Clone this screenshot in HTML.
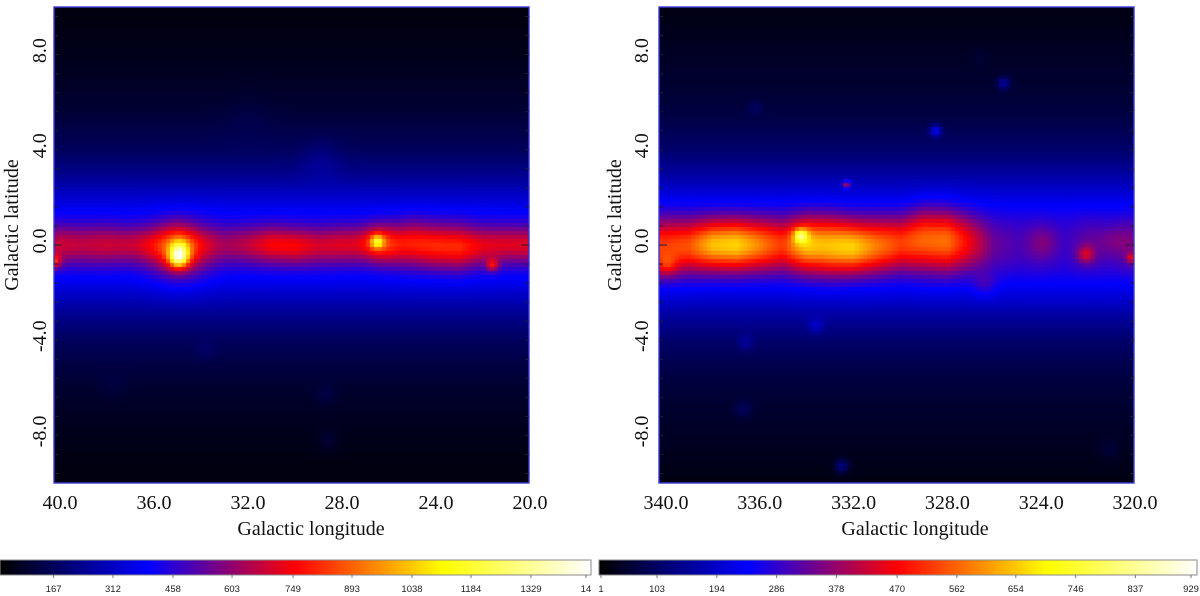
<!DOCTYPE html>
<html>
<head>
<meta charset="utf-8">
<title>Galactic plane maps</title>
<style>
html,body{margin:0;padding:0;background:#fff;}
#stage{position:relative;width:1200px;height:596px;overflow:hidden;background:#fff;}
canvas{position:absolute;display:block;}
svg{position:absolute;left:0;top:0;}
.serif{font-family:"Liberation Serif",serif;font-size:20px;fill:#111;}
.sans{font-family:"Liberation Sans",sans-serif;font-size:9.5px;fill:#222;}
</style>
</head>
<body>
<div id="stage">
  <canvas id="map-left" width="475" height="476" style="left:54px;top:7px"></canvas>
  <canvas id="map-right" width="475" height="476" style="left:659px;top:7px"></canvas>
  <canvas id="bar-left" width="591" height="15" style="left:0;top:560px"></canvas>
  <canvas id="bar-right" width="598" height="15" style="left:599px;top:560px"></canvas>
  <svg id="overlay" width="1200" height="596" xmlns="http://www.w3.org/2000/svg"></svg>
</div>
<script>
// ---------- data ----------
const latTicks = [8, 4, 0, -4, -8];
const latMinorTicks = [-9.6,-8.8,-8,-7.2,-6.4,-5.6,-4.8,-4,-3.2,-2.4,-1.6,-0.8,0,0.8,1.6,2.4,3.2,4,4.8,5.6,6.4,7.2,8,8.8,9.6];
const lonTicksLeft = [40, 36, 32, 28, 24, 20];
const lonTicksRight = [340, 336, 332, 328, 324, 320];
const barLabelsLeft = ['167','312','458','603','749','893','1038','1184','1329','14'];
const barLabelsRight = ['1','103','194','286','378','470','562','654','746','837','929'];
const barFractionsLeft = [0.0907,0.1911,0.2927,0.3926,0.4958,0.5956,0.6971,0.7970,0.8985,0.9915];
const barFractionsRight = [0.0033,0.0970,0.1970,0.2970,0.3970,0.4985,0.5985,0.6970,0.7970,0.8970,0.9900];
const colorStopPos = [0, 0.25, 0.5, 0.75, 1];
const colorStopRgb = [[0,0,0],[0,0,255],[255,0,0],[255,255,0],[255,255,255]];

// latitude profile of the diffuse emission (|b| in degrees → normalised intensity)
const wingLat = [0, 0.5, 1, 1.5, 2, 3, 4, 5, 6, 8, 10];
const wingLeft = [0.29, 0.28, 0.26, 0.235, 0.2, 0.135, 0.09, 0.065, 0.045, 0.025, 0.012];
const wingRight = [0.29, 0.29, 0.28, 0.255, 0.22, 0.155, 0.105, 0.075, 0.055, 0.035, 0.018];

// plane ridge sampled every degree of longitude
const ridgeLonLeft = [40,39,38,37,36,35,34,33,32,31,30,29,28,27,26,25,24,23,22,21,20];
const ridgeLeft = [0.45,0.44,0.45,0.44,0.45,0.48,0.41,0.40,0.44,0.50,0.50,0.46,0.47,0.45,0.50,0.53,0.54,0.54,0.48,0.47,0.47];
const widthLeft = [0.58,0.58,0.58,0.55,0.55,0.6,0.55,0.55,0.55,0.55,0.55,0.55,0.55,0.55,0.6,0.65,0.65,0.65,0.58,0.55,0.55];
const centerLeft = [0,0,0,0,0,0,0,0,0,0,-0.05,-0.05,0,0,0,0.05,-0.05,-0.1,-0.05,0,0];
const ridgeLonRight = [340,339,338,337,336,335,334,333,332,331,330,329,328,327,326,325,324,323,322,321,320];
const ridgeRight = [0.56,0.58,0.69,0.71,0.63,0.54,0.66,0.68,0.69,0.62,0.56,0.6,0.61,0.48,0.35,0.32,0.33,0.30,0.35,0.33,0.38];
const widthRight = [0.8,0.75,0.72,0.72,0.72,0.75,0.8,0.8,0.75,0.75,0.75,0.85,0.85,0.8,0.75,0.7,0.7,0.7,0.7,0.7,0.7];
const centerRight = [-0.1,-0.05,0,0,0,0,0,-0.05,-0.1,-0.05,0.05,0.2,0.15,0.1,0,0,0,0,0,0,0];

// compact sources: longitude, latitude, added intensity, sigma (degrees)
const srcLonLeft = [40.25, 34.95, 34.9, 34.9, 26.5, 26.5, 21.6, 28.9, 33.8, 28.7, 37.7, 28.6, 32.0];
const srcLatLeft = [-0.7, -0.55, -0.15, -0.3, 0.15, 0.15, -0.85, 3.6, -4.4, -6.3, -5.9, -8.2, 5.3];
const srcAmpLeft = [0.2, 0.36, 0.16, 0.17, 0.24, 0.1, 0.18, 0.03, 0.02, 0.025, 0.015, 0.025, 0.012];
const srcSigLeft = [0.2, 0.28, 0.28, 0.85, 0.2, 0.5, 0.18, 0.6, 0.3, 0.3, 0.4, 0.3, 0.7];
const srcLonRight = [339.95, 334.25, 334.2, 332.3, 336.2, 325.6, 328.5, 332.5, 336.6, 336.7, 333.6, 332.4, 326.4, 322.1, 323.9, 320.15, 320.9, 326.6, 321.1];
const srcLatRight = [-0.85, 0.4, 0.1, 2.55, 5.8, 6.8, 4.8, -9.3, -4.1, -6.9, -3.4, 0, -1.7, -0.4, 0.1, -0.55, 0.2, 7.9, -8.6];
const srcAmpRight = [0.1, 0.26, 0.05, 0.25, 0.035, 0.11, 0.16, 0.1, 0.05, 0.045, 0.06, 0.02, 0.06, 0.13, 0.05, 0.15, 0.04, 0.012, 0.025];
const srcSigRight = [0.3, 0.2, 0.5, 0.11, 0.22, 0.18, 0.17, 0.2, 0.22, 0.25, 0.22, 0.6, 0.35, 0.25, 0.45, 0.14, 0.4, 0.3, 0.3];

// ---------- axis functions ----------
const lonPxPerDeg = 23.5;
const latPxPerDeg = 23.8;
function xLeft(lon){ return 60 + (40 - lon) * lonPxPerDeg; }
function xRight(lon){ return 666 + (340 - lon) * 23.45; }
function yLat(lat){ return 245 - lat * latPxPerDeg; }
function lonFromXLeft(x){ return 40 - (x - 60) / lonPxPerDeg; }
function lonFromXRight(x){ return 340 - (x - 666) / 23.45; }
function latFromY(y){ return (245 - y) / latPxPerDeg; }

function sampled(xs, ys, x){
  const asc = xs[1] > xs[0];
  if (asc ? x <= xs[0] : x >= xs[0]) return ys[0];
  for (let i = 1; i < xs.length; i++){
    if (asc ? x <= xs[i] : x >= xs[i]){
      const f = (x - xs[i-1]) / (xs[i] - xs[i-1]);
      return ys[i-1] + f * (ys[i] - ys[i-1]);
    }
  }
  return ys[ys.length-1];
}
function color(t){
  t = Math.max(0, Math.min(1, t));
  for (let i = 1; i < colorStopPos.length; i++){
    if (t <= colorStopPos[i]){
      const f = (t - colorStopPos[i-1]) / (colorStopPos[i] - colorStopPos[i-1]);
      const a = colorStopRgb[i-1], b = colorStopRgb[i];
      return [0,1,2].map(k => Math.round(a[k] + f * (b[k] - a[k])));
    }
  }
  return colorStopRgb[colorStopRgb.length-1];
}
function drawMap(id, originX, lonFromX, ridgeLon, ridge, width, center, wing, sLon, sLat, sAmp, sSig){
  const cv = document.getElementById(id), g = cv.getContext('2d');
  const cell = 4;
  for (let py = 0; py < cv.height; py += cell){
    for (let px = 0; px < cv.width; px += cell){
      const lon = lonFromX(originX + px + cell / 2);
      const lat = latFromY(7 + py + cell / 2);
      const w0 = wing[0];
      const r = sampled(ridgeLon, ridge, lon), w = sampled(ridgeLon, width, lon), b0 = sampled(ridgeLon, center, lon);
      let t = sampled(wingLat, wing, Math.abs(lat));
      t += (r - w0) * Math.exp(-0.5 * Math.pow((lat - b0) / w, 2));
      for (let i = 0; i < sLon.length; i++){
        const dl = lon - sLon[i], db = lat - sLat[i], s = sSig[i];
        t += sAmp[i] * Math.exp(-0.5 * (dl*dl + db*db) / (s*s));
      }
      const c = color(t);
      g.fillStyle = 'rgb(' + c[0] + ',' + c[1] + ',' + c[2] + ')';
      g.fillRect(px, py, cell, cell);
    }
  }
}
drawMap('map-left', 54, lonFromXLeft, ridgeLonLeft, ridgeLeft, widthLeft, centerLeft, wingLeft, srcLonLeft, srcLatLeft, srcAmpLeft, srcSigLeft);
drawMap('map-right', 659, lonFromXRight, ridgeLonRight, ridgeRight, widthRight, centerRight, wingRight, srcLonRight, srcLatRight, srcAmpRight, srcSigRight);

function drawBar(id){
  const cv = document.getElementById(id), g = cv.getContext('2d');
  for (let x = 0; x < cv.width; x++){
    const c = color(x / (cv.width - 1));
    g.fillStyle = 'rgb(' + c[0] + ',' + c[1] + ',' + c[2] + ')';
    g.fillRect(x, 0, 1, cv.height);
  }
}
drawBar('bar-left');
drawBar('bar-right');

// ---------- overlay ----------
const svg = document.getElementById('overlay');
const NS = 'http://www.w3.org/2000/svg';
function make(tag, attrs, parent){
  const el = document.createElementNS(NS, tag);
  for (const k in attrs) el.setAttribute(k, attrs[k]);
  (parent || svg).appendChild(el);
  return el;
}
function drawPanel(left, right, xScale, lonTicks, titleLonX, latLabelX, latTitleX, prefix){
  const frame = make('rect', {x:left, y:7, width:right-left, height:476, fill:'none', stroke:'#3a3ad8', 'stroke-width':1.4});
  
  
  latMinorTicks.forEach(function(lat){
    const major = lat === 0;
    const len = major ? 8 : 4;
    const a = make('line', {x1:left, x2:left+len, y1:yLat(lat), y2:yLat(lat), stroke:'#20203a', 'stroke-width':1});
    
    
    const b = make('line', {x1:right, x2:right-len, y1:yLat(lat), y2:yLat(lat), stroke:'#20203a', 'stroke-width':1});
    
    
  });
  latTicks.forEach(function(lat){
    const y = yLat(lat) - 4;
    const t = make('text', {x:latLabelX, y:y, class:'serif', 'text-anchor':'middle', transform:'rotate(-90 ' + latLabelX + ' ' + y + ')'});
    t.textContent = lat.toFixed(1);
    
    
  });
  lonTicks.forEach(function(lon){
    const t = make('text', {x:xScale(lon), y:509, class:'serif', 'text-anchor':'middle'});
    t.textContent = lon.toFixed(1);
    
    
  });
  const xt = make('text', {x:titleLonX, y:535, class:'serif', 'text-anchor':'middle'});
  xt.textContent = 'Galactic longitude';
  
  
  const yt = make('text', {x:latTitleX, y:225, class:'serif', 'text-anchor':'middle', transform:'rotate(-90 ' + latTitleX + ' 225)'});
  yt.textContent = 'Galactic latitude';
  
  
}
drawPanel(54, 529, xLeft, lonTicksLeft, 311, 46, 18, 'left');
drawPanel(659, 1134, xRight, lonTicksRight, 915, 648, 621, 'right');

function drawBarAxis(x0, width, labels, fractions, prefix){
  const box = make('rect', {x:x0, y:560, width:width, height:15, fill:'none', stroke:'#8a8a8a', 'stroke-width':1});
  
  
  labels.forEach(function(lab, i){
    const x = x0 + fractions[i] * width;
    const tk = make('line', {x1:x, x2:x, y1:575, y2:578, stroke:'#777', 'stroke-width':1});
    
    
    const t = make('text', {x:x, y:592, class:'sans', 'text-anchor':'middle'});
    t.textContent = lab;
    
    
  });
}
drawBarAxis(0, 591, barLabelsLeft, barFractionsLeft, 'left');
drawBarAxis(599, 598, barLabelsRight, barFractionsRight, 'right');
</script>
</body>
</html>
